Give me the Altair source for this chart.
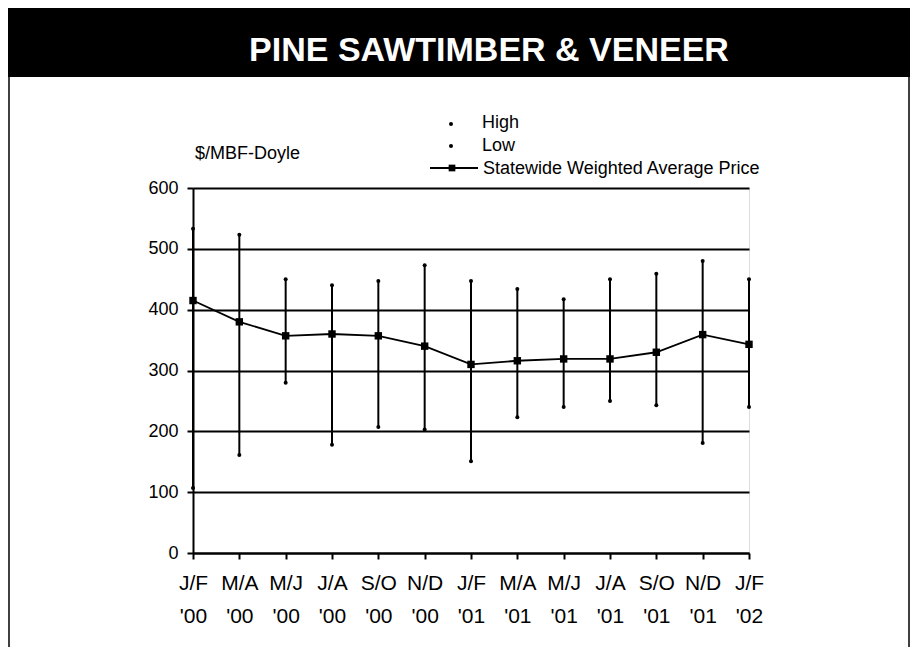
import altair as alt
import pandas as pd

periods = ["J/F '00", "M/A '00", "M/J '00", "J/A '00", "S/O '00", "N/D '00",
           "J/F '01", "M/A '01", "M/J '01", "J/A '01", "S/O '01", "N/D '01", "J/F '02"]
high = [533, 523, 450, 440, 447, 473, 447, 434, 417, 450, 459, 480, 450]
low = [107, 161, 280, 178, 207, 203, 151, 223, 240, 250, 243, 181, 240]
avg = [415, 380, 357, 360, 357, 340, 310, 316, 319, 319, 330, 359, 343]
y_ticks = [0, 100, 200, 300, 400, 500, 600]

title_text = "PINE SAWTIMBER & VENEER"
unit_text = "$/MBF-Doyle"
legend_labels = ["High", "Low", "Statewide Weighted Average Price"]

df = pd.DataFrame({"period": periods, "high": high, "low": low, "avg": avg})

FONT = "Liberation Sans"
W, H = 556, 365

xenc = alt.X("period:N", sort=periods,
             scale=alt.Scale(type="point", padding=0),
             axis=alt.Axis(title=None, labelAngle=0,
                           labelExpr="split(datum.label, ' ')",
                           labelFontSize=21, labelLineHeight=33,
                           labelPadding=13, tickSize=6, tickWidth=2,
                           tickColor="black", domainColor="black",
                           domainWidth=2, labelColor="black",
                           labelFont=FONT, grid=False))
yscale = alt.Scale(domain=[0, 600], nice=False)
yaxis = alt.Axis(title=None, values=y_ticks, grid=True, gridColor="black",
                 gridWidth=2, gridOpacity=1, domainColor="black", domainWidth=2,
                 tickSize=6, tickWidth=2, tickColor="black", labelFontSize=18,
                 labelPadding=9, labelColor="black", labelFont=FONT)

base = alt.Chart(df)
rules = base.mark_rule(color="black", strokeWidth=2).encode(
    x=xenc, y=alt.Y("high:Q", scale=yscale, axis=yaxis), y2="low:Q")
hi_pts = base.mark_circle(color="black", size=16, opacity=1).encode(
    x=xenc, y=alt.Y("high:Q", scale=yscale))
lo_pts = base.mark_circle(color="black", size=16, opacity=1).encode(
    x=xenc, y=alt.Y("low:Q", scale=yscale))
avg_line = base.mark_line(color="black", strokeWidth=1.8).encode(
    x=xenc, y=alt.Y("avg:Q", scale=yscale))
avg_pts = base.mark_square(color="black", size=55, opacity=1).encode(
    x=xenc, y=alt.Y("avg:Q", scale=yscale))

one = pd.DataFrame({"a": [0]})
deco = alt.Chart(one)
band = deco.mark_rect(color="black").encode(
    x=alt.value(-185), x2=alt.value(717), y=alt.value(-180), y2=alt.value(-111))
title = deco.mark_text(text=title_text, color="white", fontSize=34,
                       fontWeight="bold", font=FONT,
                       align="center", baseline="alphabetic").encode(
    x=alt.value(296), y=alt.value(-127))
left_border = deco.mark_rule(color="black", strokeWidth=1.5).encode(
    x=alt.value(-184), y=alt.value(-112), y2=alt.value(460))
right_border = deco.mark_rule(color="black", strokeWidth=1.5).encode(
    x=alt.value(716), y=alt.value(-112), y2=alt.value(460))
unit = deco.mark_text(text=unit_text, fontSize=18, font=FONT, color="black",
                      align="left", baseline="middle").encode(
    x=alt.value(2), y=alt.value(-34))
leg_hi_dot = deco.mark_circle(color="black", size=16, opacity=1).encode(
    x=alt.value(258), y=alt.value(-64))
leg_lo_dot = deco.mark_circle(color="black", size=16, opacity=1).encode(
    x=alt.value(258), y=alt.value(-42))
leg_line = deco.mark_rule(color="black", strokeWidth=1.8).encode(
    x=alt.value(237), x2=alt.value(285), y=alt.value(-20))
leg_sq = deco.mark_square(color="black", size=45, opacity=1).encode(
    x=alt.value(259), y=alt.value(-20))
leg_t1 = deco.mark_text(text=legend_labels[0], fontSize=18, font=FONT, color="black",
                        align="left", baseline="middle").encode(
    x=alt.value(289), y=alt.value(-65))
leg_t2 = deco.mark_text(text=legend_labels[1], fontSize=18, font=FONT, color="black",
                        align="left", baseline="middle").encode(
    x=alt.value(289), y=alt.value(-42))
leg_t3 = deco.mark_text(text=legend_labels[2], fontSize=18, font=FONT, color="black",
                        align="left", baseline="middle").encode(
    x=alt.value(290), y=alt.value(-19))

chart = alt.layer(
    band, title, left_border, right_border, unit,
    rules, hi_pts, lo_pts, avg_line, avg_pts,
    leg_hi_dot, leg_lo_dot, leg_line, leg_sq, leg_t1, leg_t2, leg_t3,
).properties(
    width=W, height=H,
    autosize=alt.AutoSizeParams(type="none"),
    padding={"left": 185, "top": 180, "right": 161, "bottom": 94},
).configure_view(stroke="black", strokeWidth=2).configure(background="white")

chart.save("out.html", embed_options={"renderer": "svg", "actions": False})
